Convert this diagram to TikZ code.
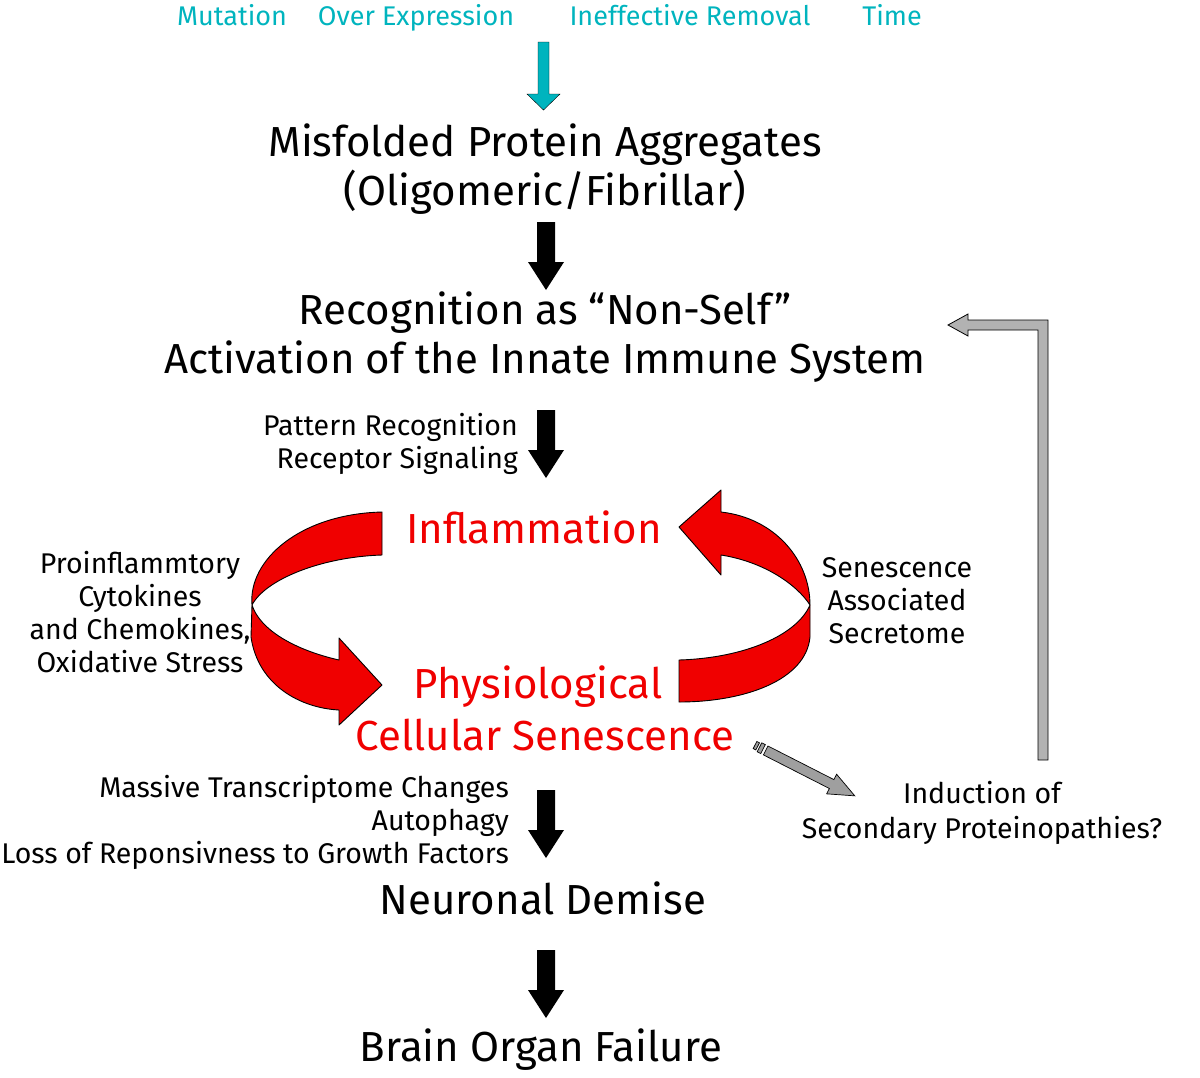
\documentclass[tikz,border=0pt]{standalone}
\usepackage{fontspec}
\setmainfont{Fira Sans}
\usetikzlibrary{calc}
\definecolor{tealtxt}{RGB}{0,180,190}
\definecolor{arrred}{RGB}{240,0,0}
\begin{document}
\begin{tikzpicture}[x=1pt,y=-1pt,
  big/.style={font=\fontsize{42}{48}\selectfont, inner sep=0pt},
  mid/.style={font=\fontsize{28.5}{33}\selectfont, inner sep=0pt},
  top/.style={font=\fontsize{27}{30}\selectfont, text=tealtxt, inner sep=0pt, anchor=base},
  red/.style={big, text=arrred},
  ribbon/.style={fill=arrred, draw=black, line width=0.9pt, line join=round}]
\useasboundingbox (0,0) rectangle (1200,1077);

% top causes
\node[top] (mut) at (232,25) {Mutation};
\node[top] (over) at (416,25) {Over Expression};
\node[top] (inef) at (690,25) {Ineffective Removal};
\node[top] (time) at (892,25) {Time};

% main chain
\node[big] (mis1) at (545,145) {Misfolded Protein Aggregates};
\node[big] (mis2) at (545,192) {(Oligomeric/Fibrillar)};
\node[big] (rec1) at (545,313) {Recognition as “Non-Self”};
\node[big] (rec2) at (545,362) {Activation of the Innate Immune System};
\node[red] (infl) at (534,527) {Inflammation};
\node[red] (phys) at (538,687) {Physiological};
\node[red] (cell) at (545,735) {Cellular Senescence};
\node[big] (neur) at (543,898) {Neuronal Demise};
\node[big] (brain) at (541,1050) {Brain Organ Failure};
\node[mid, align=center] (ind) at (982,813) {Induction of\\[2pt]Secondary Proteinopathies?};

% side labels
\node[mid, align=right, anchor=east] (prr) at (518,444) {Pattern Recognition\\Receptor Signaling};
\node[mid, align=center] (cyto) at (140,612) {Proinflammtory\\Cytokines\\and Chemokines,\\Oxidative Stress};
\node[mid, align=center] (sas) at (897,601) {Senescence\\Associated\\Secretome};
\node[mid, align=right, anchor=east] (mtc) at (509,822) {Massive Transcriptome Changes\\Autophagy\\Loss of Reponsivness to Growth Factors};

% block arrows (down)
\draw[fill=tealtxt, draw=black] (538,42) -- (549,42) -- (549,94) -- (560,94) -- (543.5,110) -- (527,94) -- (538,94) -- cycle;
\foreach \yy in {222,410,790,950}{
  \fill[black] (537,\yy) -- (555,\yy) -- (555,\yy+40) -- (564,\yy+40) -- (546,\yy+68) -- (528,\yy+40) -- (537,\yy+40) -- cycle;
}

% left ribbon arrow
\draw[ribbon] (382,512) -- (382,555) .. controls (320,557) and (265,580) .. (252,605)
  .. controls (248,560) and (300,514) .. (382,512) -- cycle;
\draw[ribbon] (252,605) -- (251,637) .. controls (258,685) and (300,708) .. (339,710)
  -- (339,725) -- (382,685) -- (339,638) -- (339,660)
  .. controls (295,650) and (260,630) .. (252,605) -- cycle;
% right ribbon arrow
\draw[ribbon] (679,527) -- (721,490) -- (721,512) .. controls (775,518) and (810,560) .. (810,605)
  .. controls (797,585) and (765,562) .. (721,555) -- (721,575) -- cycle;
\draw[ribbon] (810,605) -- (810,637) .. controls (806,680) and (745,702) .. (679,702)
  -- (679,660) .. controls (745,658) and (797,635) .. (810,605) -- cycle;

% grey arrow towards secondary proteinopathies
\begin{scope}[shift={(755,745)}, rotate=-27]
  \draw[fill=gray!75, line width=0.7pt] (0,-4) rectangle (3,4);
  \draw[fill=gray!75, line width=0.7pt] (5,-5) rectangle (9,5);
  \draw[fill=gray!75, line width=0.7pt] (12,-5) -- (86,-5) -- (86,-11) -- (112,0) -- (86,11) -- (86,5) -- (12,5) -- cycle;
\end{scope}

% grey feedback arrow
\draw[fill=gray!60, line width=0.8pt] (1038,760) -- (1048,760) -- (1048,320) -- (968,320) -- (968,314)
  -- (948,325) -- (968,336) -- (968,330) -- (1038,330) -- cycle;
\end{tikzpicture}
\end{document}
